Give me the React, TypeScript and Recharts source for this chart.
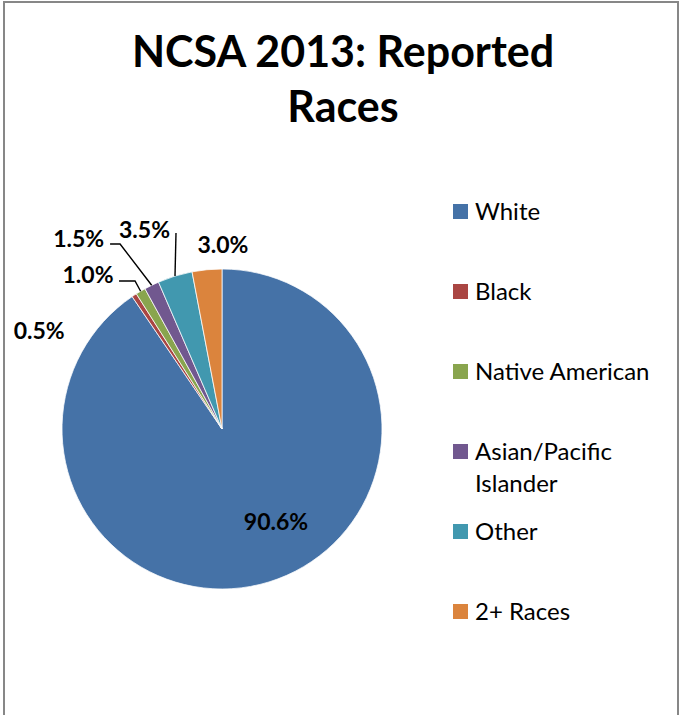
import { PieChart, Pie, Cell, Legend } from "recharts";

const races = ["White", "Black", "Native American", "Asian/Pacific Islander", "Other", "2+ Races"];
const shares = [90.6, 0.5, 1.0, 1.5, 3.5, 3.0];
const colors = ["#4572A7", "#AA4643", "#89A54E", "#71588F", "#4198AF", "#DB843D"];

const data = races.map((name, i) => ({ name, value: shares[i] }));

const FONT = "Lato, 'Open Sans', sans-serif";
const RAD = Math.PI / 180;

// label placement relative to the slice's outer edge (excel "best fit" look)
const labelOffsets = [
  { dx: 7, dy: -61 },
  { dx: -95, dy: 35 },
  { dx: -52.6, dy: -16.8, leader: [[-5.6, -10.3], [-21.6, -10.3]] },
  { dx: -73, dy: -47, leader: [[-31.6, -41.3], [-41.6, -41.3]] },
  { dx: -30.5, dy: -47.5, leader: [[1, -43]] },
  { dx: 16, dy: -25.5 },
];

function renderLabel(props: any) {
  const { cx, cy, midAngle, outerRadius, index, value } = props;
  const ex = cx + outerRadius * Math.cos(-midAngle * RAD);
  const ey = cy + outerRadius * Math.sin(-midAngle * RAD);
  const o = labelOffsets[index];
  let line = null;
  if (o.leader) {
    const pts = [[0, 0], ...o.leader].map(([x, y]) => `${ex + x},${ey + y}`).join(" ");
    line = <polyline points={pts} fill="none" stroke="#000" strokeWidth={1.4} />;
  }
  return (
    <g key={`lbl-${index}`}>
      {line}
      <text
        x={ex + o.dx}
        y={ey + o.dy}
        textAnchor="middle"
        dominantBaseline="central"
        fontFamily={FONT}
        fontWeight={700}
        fontSize={23}
        fill="#000"
      >
        {`${Number(value).toFixed(1)}%`}
      </text>
    </g>
  );
}

function renderLegend(props: any) {
  const items = [...(props.payload || [])].sort(
    (a: any, b: any) => races.indexOf(a.value) - races.indexOf(b.value)
  );
  return (
    <div style={{ fontFamily: FONT, fontSize: 24, lineHeight: "32px", color: "#000" }}>
      {items.map((entry: any) => (
        <div key={entry.value} style={{ display: "flex", alignItems: "flex-start", height: 80 }}>
          <span
            style={{
              display: "inline-block",
              width: 15,
              height: 15,
              marginTop: 9,
              marginRight: 7,
              background: entry.color,
              flex: "none",
            }}
          />
          <span style={{ maxWidth: 192 }}>{entry.value}</span>
        </div>
      ))}
    </div>
  );
}

export default function App() {
  return (
    <div style={{ position: "absolute", left: 0, top: 0, width: 681, height: 715, background: "#fff", overflow: "hidden" }}>
      <div
        style={{
          position: "absolute",
          left: 3,
          top: 1,
          width: 672,
          height: 760,
          border: "2px solid #878787",
        }}
      />
      <div
        style={{
          position: "absolute",
          left: 43,
          top: 23,
          width: 600,
          textAlign: "center",
          fontFamily: FONT,
          fontWeight: 700,
          fontSize: 43,
          lineHeight: "55px",
          color: "#000",
        }}
      >
        NCSA 2013: Reported
        <br />
        Races
      </div>
      <div style={{ position: "absolute", left: 0, top: 0 }}>
        <PieChart width={681} height={715} margin={{ top: 0, right: 0, bottom: 0, left: 0 }}>
          <Pie
            data={data}
            dataKey="value"
            nameKey="name"
            cx={222}
            cy={429}
            outerRadius={160}
            startAngle={90}
            endAngle={-270}
            stroke="#fff"
            strokeWidth={0.75}
            label={renderLabel}
            labelLine={false}
            isAnimationActive={false}
          >
            {data.map((d, i) => (
              <Cell key={d.name} fill={colors[i]} />
            ))}
          </Pie>
          <Legend
            layout="vertical"
            verticalAlign="top"
            align="right"
            content={renderLegend}
            wrapperStyle={{ left: 453, top: 195, width: 225 }}
          />
        </PieChart>
      </div>
    </div>
  );
}
